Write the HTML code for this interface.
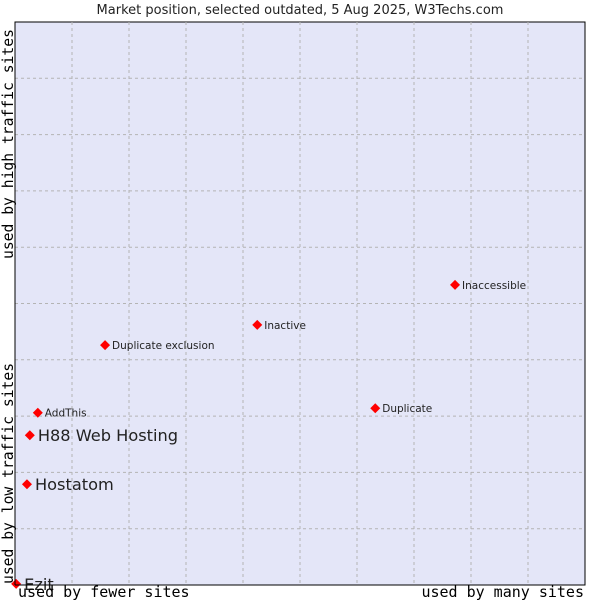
<!DOCTYPE html>
<html><head><meta charset="utf-8"><style>
body{margin:0;background:#fff}
svg{display:block;font-family:"DejaVu Sans","Liberation Sans",sans-serif}
</style></head><body>
<svg id="chart" width="600" height="600" viewBox="0 0 600 600">
<text x="300" y="14" text-anchor="middle" font-size="13" fill="#222">Market position, selected outdated, 5 Aug 2025, W3Techs.com</text>
<rect x="15" y="22" width="570" height="563" fill="#e4e6f8" stroke="#000"/>
<g id="grid"></g>
<g id="marks"></g>
<line x1="15" y1="22" x2="15" y2="585" stroke="#000"/>
<line x1="15" y1="585" x2="585" y2="585" stroke="#000"/>
<text x="18" y="597" font-family="DejaVu Sans Mono,Liberation Mono,monospace" font-size="15" fill="#000">used by fewer sites</text>
<text x="584" y="597" text-anchor="end" font-family="DejaVu Sans Mono,Liberation Mono,monospace" font-size="15" fill="#000">used by many sites</text>
<text transform="translate(13,584) rotate(-90)" font-family="DejaVu Sans Mono,Liberation Mono,monospace" font-size="14.7" fill="#000">used by low traffic sites</text>
<text transform="translate(13,259) rotate(-90)" font-family="DejaVu Sans Mono,Liberation Mono,monospace" font-size="14.7" fill="#000">used by high traffic sites</text>
</svg>
<script>
const names = ["Ezit","Hostatom","H88 Web Hosting","AddThis","Duplicate exclusion","Inactive","Duplicate","Inaccessible"];
const xValues = [0.2,2.1,2.6,4.0,15.8,42.5,63.2,77.2];
const yValues = [0.2,17.9,26.6,30.6,42.6,46.2,31.4,53.3];
const big = [true,true,true,false,false,false,false,false];
const L=15,R=585,T=22,B=585;
const sx=v=>L+v/100*(R-L), sy=v=>B-v/100*(B-T);
const NS="http://www.w3.org/2000/svg";
const grid=document.getElementById('grid'), marks=document.getElementById('marks');
for(let i=1;i<10;i++){
  const v=document.createElementNS(NS,'line');
  
  
  v.setAttribute('x1',sx(i*10));v.setAttribute('x2',sx(i*10));v.setAttribute('y1',T);v.setAttribute('y2',B);
  v.setAttribute('stroke','#b4b4b4');v.setAttribute('stroke-dasharray','3,3');grid.appendChild(v);
  const h=document.createElementNS(NS,'line');
  
  
  h.setAttribute('y1',sy(i*10));h.setAttribute('y2',sy(i*10));h.setAttribute('x1',L);h.setAttribute('x2',R);
  h.setAttribute('stroke','#b4b4b4');h.setAttribute('stroke-dasharray','3,3');grid.appendChild(h);
}
names.forEach((n,i)=>{
  const x=sx(xValues[i]), y=sy(yValues[i]);
  const d=document.createElementNS(NS,'path');
  
  
  d.setAttribute('d',`M${x-5},${y} L${x},${y-5} L${x+5},${y} L${x},${y+5} Z`);
  d.setAttribute('fill','#f00');marks.appendChild(d);
  const t=document.createElementNS(NS,'text');
  
  
  t.setAttribute('x',x+(big[i]?8:7));t.setAttribute('y',y+(big[i]?6:4));
  t.setAttribute('font-size',big[i]?16.2:10.5);t.setAttribute('fill','#222');
  t.textContent=n;marks.appendChild(t);
});
</script>
</body></html>
